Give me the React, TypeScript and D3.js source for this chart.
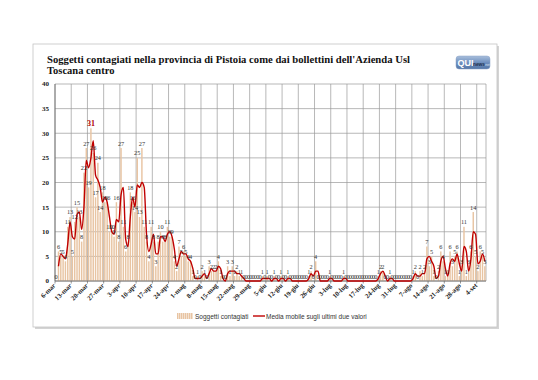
import React from "react";
import * as d3 from "d3";

// ---------- data ----------
const dailyCases: number[] = [
  0, 6, 5, 5, 4, 11, 13,
  5, 12, 15, 13, 8, 22, 27,
  19, 31, 26, 17, 24, 14, 18,
  16, 16, 10, 10, 9, 16, 8,
  27, 11, 6, 8, 18, 16, 14,
  25, 13, 27, 11, 8, 4, 11,
  8, 3, 8, 10, 8, 8, 11,
  9, 9, 4, 2, 7, 5, 6,
  5, 4, 4, 1, 0, 1, 0,
  2, 1, 0, 3, 2, 2, 2,
  4, 1, 0, 0, 3, 1, 3,
  1, 2, 1, 1, 0, 0, 0,
  0, 0, 0, 0, 0, 1, 0,
  1, 0, 0, 1, 0, 0, 1,
  0, 0, 1, 0, 0, 0, 0,
  0, 0, 0, 0, 1, 2, 0,
  4, 0, 0, 0, 0, 0, 1,
  0, 0, 0, 0, 0, 1, 0,
  0, 0, 0, 0, 0, 0, 0,
  0, 0, 0, 0, 0, 0, 1,
  2, 2, 0, 0, 1, 0, 0,
  0, 0, 0, 0, 0, 0, 0,
  1, 2, 0, 2, 1, 2, 7,
  3, 5, 1, 0, 2, 6, 4,
  1, 1, 6, 3, 5, 6, 1,
  3, 11, 1, 3, 6, 14, 5,
  2, 6, 5, 3,
];
const weekLabels: string[] = [
  "6-mar", "13-mar", "20-mar", "27-mar", "3-apr", "10-apr", "17-apr", "24-apr",
  "1-mag", "8-mag", "15-mag", "22-mag", "29-mag", "5-giu", "12-giu", "19-giu",
  "26-giu", "3-lug", "10-lug", "17-lug", "24-lug", "31-lug", "7-ago", "14-ago",
  "21-ago", "28-ago", "4-set",
];
const yTicks: number[] = [0, 5, 10, 15, 20, 25, 30, 35, 40];
const titleLines: string[] = [
  "Soggetti contagiati nella provincia di Pistoia come dai bollettini dell'Azienda Usl",
  "Toscana centro",
];
const seriesNames: string[] = ["Soggetti contagiati", "Media mobile sugli ultimi due valori"];

// ---------- component ----------
export default function App() {
  const W = 538;
  const H = 380;
  const n = dailyCases.length;
  const x = d3.scaleLinear().domain([0, n]).range([55, 486]);
  const y = d3.scaleLinear().domain([0, 40]).range([281, 84]);
  const step = x(1) - x(0);
  const bw = step * 0.62;

  const movingAvg = dailyCases.map((v, i) => (i === 0 ? null : (v + dailyCases[i - 1]) / 2));
  const line = d3
    .line<number | null>()
    .defined((d) => d !== null)
    .x((_, i) => x(i + 0.5))
    .y((d) => y(d as number))
    .curve(d3.curveMonotoneX);

  const maxVal = d3.max(dailyCases) as number;
  const serif = "'Liberation Serif', 'Times New Roman', serif";
  const sans = "'Liberation Sans', Arial, sans-serif";

  return (
    <div style={{ position: "absolute", left: 0, top: 0 }}>
      <svg width={W} height={H} style={{ display: "block", background: "#fff" }}>
        <defs>
          <linearGradient id="logoGrad" x1="0" y1="0" x2="0" y2="1">
            <stop offset="0" stopColor="#a9bfdc" />
            <stop offset="0.5" stopColor="#6f90bf" />
            <stop offset="1" stopColor="#5577a8" />
          </linearGradient>
        </defs>
        {/* frame with shadow */}
        <rect x={35} y={46} width={464} height={283} fill="#d4d4d4" />
        <rect x={33} y={44} width={464} height={283} fill="#fff" stroke="#c4c4c4" strokeWidth={0.8} />

        {/* title */}
        {titleLines.map((t, i) => (
          <text
            key={i}
            x={47}
            y={63 + i * 11}
            fontFamily={serif}
            fontWeight="bold"
            fontSize={10.5}
            fill="#111"
            textLength={i === 0 ? 363 : undefined}
            lengthAdjust="spacingAndGlyphs"
          >
            {t}
          </text>
        ))}

        {/* logo */}
        <g>
          <rect x={456} y={56} width={34} height={13} rx={3} fill="url(#logoGrad)" stroke="#8aa3c6" strokeWidth={0.5} />
          <text x={457.5} y={66.3} fontFamily={sans} fontWeight="bold" fontSize={9} fill="#fff">QUI</text>
          <text x={473} y={66} fontFamily={sans} fontSize={4.8} fill="#1e2f4f" fontWeight="bold">news</text>
          <text x={484.3} y={66} fontFamily={sans} fontSize={3.6} fill="#dbe4f2">.net</text>
        </g>

        {/* horizontal gridlines */}
        {yTicks.map((t) => (
          <line key={"h" + t} x1={x(0)} x2={x(n)} y1={y(t)} y2={y(t)} stroke="#9a9a9a" strokeWidth={0.7} />
        ))}
        {/* vertical gridlines (weekly) */}
        {weekLabels.map((_, k) => (
          <line key={"v" + k} x1={x(k * 7)} x2={x(k * 7)} y1={y(40)} y2={y(0)} stroke="#9a9a9a" strokeWidth={0.7} />
        ))}
        <line x1={x(n)} x2={x(n)} y1={y(40)} y2={y(0)} stroke="#9a9a9a" strokeWidth={0.7} />

        {/* bars */}
        {dailyCases.map((v, i) => (
          <rect
            key={"b" + i}
            x={x(i) + (step - bw) / 2}
            y={y(v)}
            width={bw}
            height={y(0) - y(v)}
            fill="#e8c4a2"
          />
        ))}

        {/* axes */}
        <line x1={x(0)} x2={x(0)} y1={y(40)} y2={y(0)} stroke="#666" strokeWidth={0.8} />
        <line x1={x(0)} x2={x(n)} y1={y(0)} y2={y(0)} stroke="#666" strokeWidth={0.8} />
        {weekLabels.map((_, k) => (
          <line key={"t" + k} x1={x(k * 7)} x2={x(k * 7)} y1={y(0)} y2={y(0) + 2.5} stroke="#666" strokeWidth={0.7} />
        ))}

        {/* moving average line */}
        <path d={line(movingAvg) || ""} fill="none" stroke="#c00000" strokeWidth={1.4} strokeLinejoin="round" />

        {/* data labels */}
        {dailyCases.map((v, i) => {
          const isMax = v === maxVal;
          return (
            <text
              key={"l" + i}
              x={x(i + 0.5)}
              y={y(v) - (isMax ? 2.5 : 2.5)}
              textAnchor="middle"
              fontFamily={serif}
              fontSize={isMax ? 8 : 6.3}
              fontWeight={isMax ? "bold" : "normal"}
              fill={isMax ? "#b00000" : "#333"}
            >
              {v}
            </text>
          );
        })}

        {/* y tick labels */}
        {yTicks.map((t) => (
          <text
            key={"yl" + t}
            x={49}
            y={y(t) + 2.4}
            textAnchor="end"
            fontFamily={serif}
            fontWeight="bold"
            fontSize={7}
            fill="#222"
          >
            {t}
          </text>
        ))}

        {/* x tick labels */}
        {weekLabels.map((lab, k) => (
          <text
            key={"xl" + k}
            transform={`translate(${x(k * 7) + 1},${y(0) + 5}) rotate(-45)`}
            textAnchor="end"
            fontFamily={serif}
            fontWeight="bold"
            fontSize={6.8}
            fill="#222"
          >
            {lab}
          </text>
        ))}

        {/* legend */}
        <g>
          <rect x={177} y={313} width={16} height={6} fill="#e8c4a2" />
          {d3.range(0, 16, 2).map((o) => (
            <line key={"lg" + o} x1={177 + o + 1.5} x2={177 + o + 1.5} y1={313} y2={319} stroke="#fff" strokeWidth={0.5} />
          ))}
          <text x={195} y={318.5} fontFamily={sans} fontSize={6.5} fill="#333">{seriesNames[0]}</text>
          <line x1={253} x2={265} y1={316} y2={316} stroke="#c00000" strokeWidth={1.4} />
          <text x={266} y={318.5} fontFamily={sans} fontSize={6.5} fill="#333">{seriesNames[1]}</text>
        </g>
      </svg>
    </div>
  );
}
